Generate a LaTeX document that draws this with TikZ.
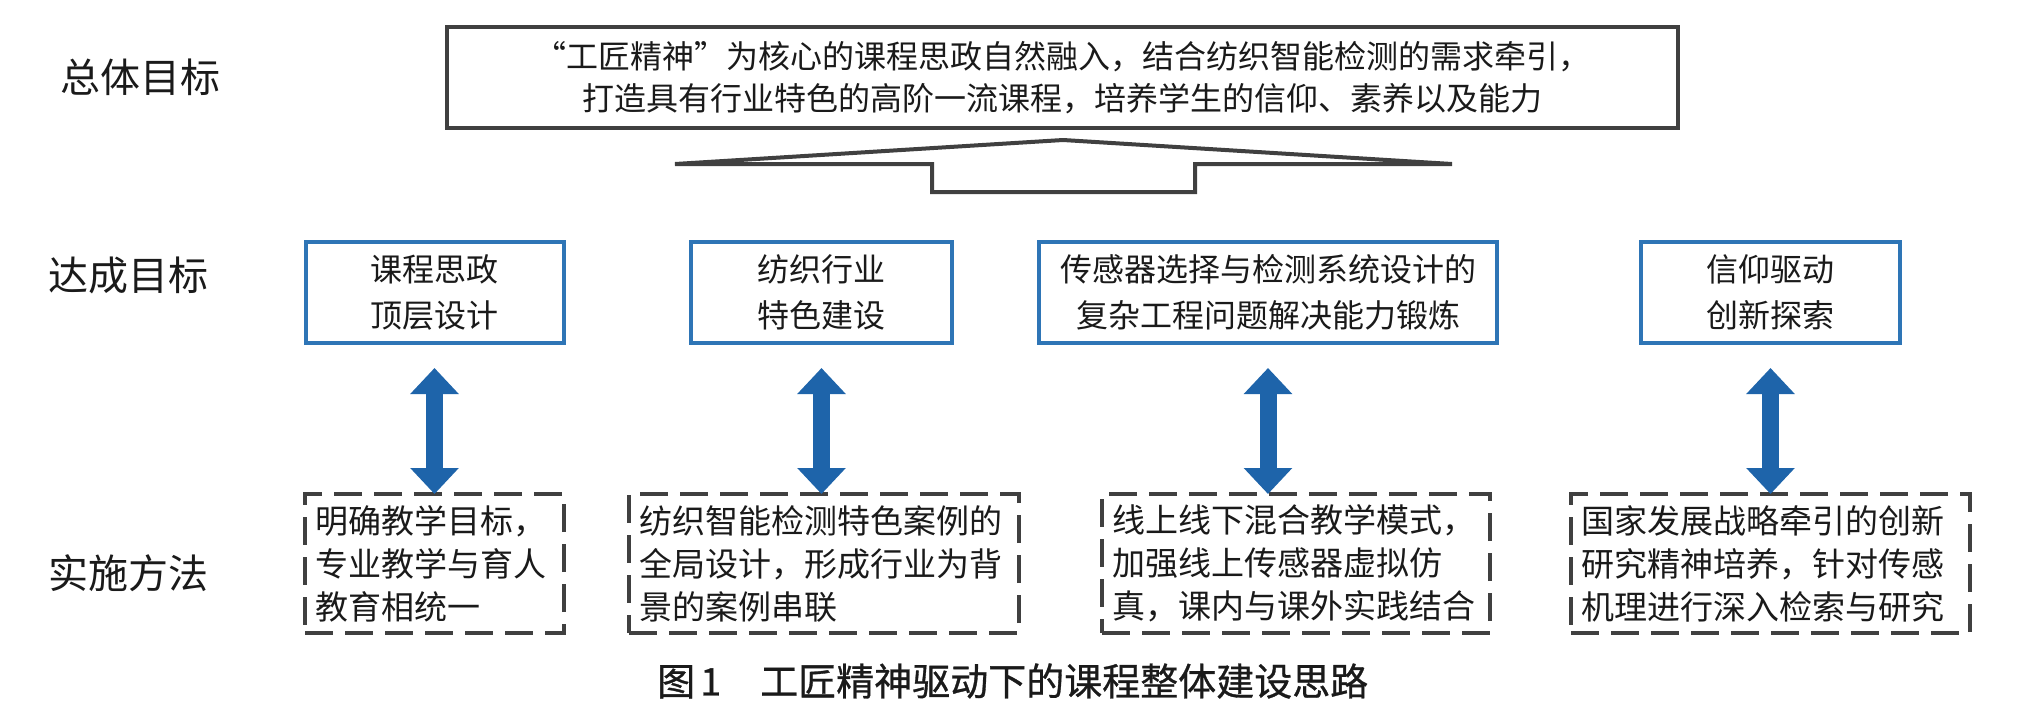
\documentclass[tikz,border=0pt]{standalone}
\usepackage{fontspec}
\setmainfont{Noto Sans CJK SC}
\newfontfamily\capfont[FakeBold=0.8]{Noto Sans CJK SC}
\usetikzlibrary{arrows.meta}
\definecolor{boxblue}{HTML}{2E75B6}
\definecolor{arrblue}{HTML}{1E64AA}
\definecolor{dgray}{HTML}{404040}
\definecolor{txt}{HTML}{1A1A1A}
\begin{document}
\begin{tikzpicture}[x=1pt,y=-1pt,
  rowlabel/.style={font=\fontsize{40}{48}\selectfont, text=txt, anchor=west, inner sep=0pt},
  topbox/.style={draw=dgray, line width=4pt, minimum width=1231pt, minimum height=101pt,
    inner sep=0pt, outer sep=0pt, align=center, font=\fontsize{32}{42}\selectfont, text=txt},
  goalbox/.style={draw=boxblue, line width=4pt, minimum width=#1, minimum height=101pt,
    inner sep=0pt, outer sep=0pt, align=center, font=\fontsize{32}{46}\selectfont, text=txt},
  methodbox/.style={draw=dgray, line width=3.5pt, dash pattern=on 28pt off 12pt,
    minimum height=139pt, inner xsep=10pt, inner ysep=0pt, outer sep=0pt,
    text width=#1, align=left, font=\fontsize{33}{43}\selectfont, text=txt},
  dblarrow/.style={draw=arrblue, line width=17pt,
    {Triangle[length=26pt,width=47pt]}-{Triangle[length=26pt,width=47pt]}},
  chevron/.style={draw=dgray, line width=4pt, line join=miter}
]
\fill[white] (0,0) rectangle (2037,721);
\useasboundingbox (0,0) rectangle (2037,721);

% row labels
\node[rowlabel] (l1) at (60,77) {总体目标};
\node[rowlabel] (l2) at (48,275) {达成目标};
\node[rowlabel] (l3) at (48,573) {实施方法};

% overall goal
\node[topbox] (top) at (1062.5,77.5) {“工匠精神”为核心的课程思政自然融入，结合纺织智能检测的需求牵引，\\打造具有行业特色的高阶一流课程，培养学生的信仰、素养以及能力};

% broad upward arrow shape
\draw[chevron] (675,164) -- (1063,140) -- (1452,164) -- (1195,164) -- (1195,192)
  -- (932,192) -- (932,164) -- cycle;

% goal boxes
\node[goalbox=258pt] (b1) at (434.5,292.5) {课程思政\\顶层设计};
\node[goalbox=261pt] (b2) at (821.5,292.5) {纺织行业\\特色建设};
\node[goalbox=458pt] (b3) at (1268,292.5) {传感器选择与检测系统设计的\\复杂工程问题解决能力锻炼};
\node[goalbox=259pt] (b4) at (1770.5,292.5) {信仰驱动\\创新探索};

% method boxes
\node[methodbox=239pt] (m1) at (434.5,563.5) {明确教学目标，\\专业教学与育人\\教育相统一};
\node[methodbox=370pt] (m2) at (824,563.5) {纺织智能检测特色案例的\\全局设计，形成行业为背\\景的案例串联};
\node[methodbox=368pt] (m3) at (1296,563.5) {线上线下混合教学模式，\\加强线上传感器虚拟仿\\真，课内与课外实践结合};
\node[methodbox=379pt] (m4) at (1770.5,563.5) {国家发展战略牵引的创新\\研究精神培养，针对传感\\机理进行深入检索与研究};

% double arrows
\draw[dblarrow] ([yshift=-25pt]b1.south) -- (b1.south |- m1.north);
\draw[dblarrow] ([yshift=-25pt]b2.south) -- (b2.south |- m2.north);
\draw[dblarrow] ([yshift=-25pt]b3.south) -- (b3.south |- m3.north);
\draw[dblarrow] ([yshift=-25pt]b4.south) -- (b4.south |- m4.north);

% caption
\node[anchor=west, inner sep=0pt, font=\capfont\fontsize{38}{44}\selectfont, text=txt] (cap) at (657,681)
  {图\hspace{5pt}1\hspace{39pt}工匠精神驱动下的课程整体建设思路};
\end{tikzpicture}
\end{document}
